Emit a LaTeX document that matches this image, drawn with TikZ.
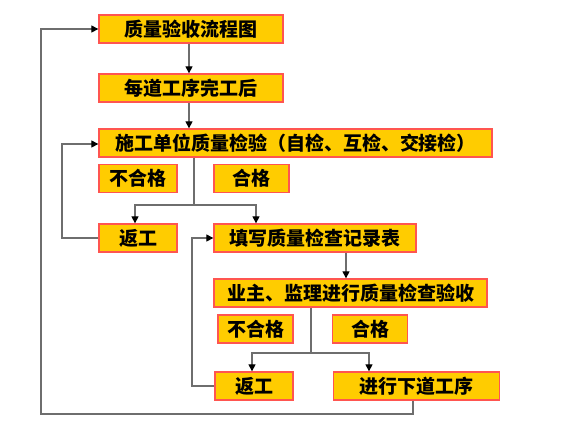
\documentclass[tikz,border=0pt]{standalone}
\usepackage{fontspec}
\usepackage{tikz}
\usetikzlibrary{arrows.meta}
\newfontfamily\cjk{Noto Sans CJK SC}
\definecolor{boxfill}{RGB}{255,204,0}
\definecolor{boxline}{RGB}{255,85,80}
\definecolor{linkgray}{RGB}{110,110,110}

\begin{document}
\begin{tikzpicture}[x=1pt,y=-1pt,
    stepbox/.style={draw=boxline,fill=boxfill,line width=1.3pt,inner sep=0pt,
        minimum height=28pt,font=\cjk\bfseries\fontsize{19}{21}\selectfont},
    link/.style={draw=linkgray,line width=1.1pt},
    arr/.style={link,-{Triangle[length=7pt,width=7pt,color=black]}}]
            \useasboundingbox (0,0) rectangle (576,432);

            % boxes
            \node[stepbox,minimum width=184pt] at (191,29) (t1) {质量验收流程图};
            \node[stepbox,minimum width=184pt] at (191,88) (t2) {每道工序完工后};
            \node[stepbox,minimum width=393pt] at (295.5,143) (t3) {施工单位质量检验（自检、互检、交接检）};
            \node[stepbox,minimum width=78pt] at (138,178.5) (bad1) {不合格};
            \node[stepbox,minimum width=75pt] at (251.5,178.5) (ok1) {合格};
            \node[stepbox,minimum width=78pt] at (138,238) (rw1) {返工};
            \node[stepbox,minimum width=202pt] at (315,238) (rec) {填写质量检查记录表};
            \node[stepbox,minimum width=273pt] at (350.5,293) (own) {业主、监理进行质量检查验收};
            \node[stepbox,minimum width=75pt] at (255.5,329) (bad2) {不合格};
            \node[stepbox,minimum width=75pt] at (370,329) (ok2) {合格};
            \node[stepbox,minimum width=78pt] at (254,386) (rw2) {返工};
            \node[stepbox,minimum width=166pt] at (416.5,386) (next) {进行下道工序};

            % branch points
            \coordinate (s1) at (194,205);
            \coordinate (s2) at (311,353);

            \draw[arr] (t1.south -| 189,0) -- (t2.north -| 189,0);
            \draw[arr] (t2.south -| 189,0) -- (t3.north -| 189,0);
            \draw[link] (t3.south -| s1) -- (s1);
            \draw[arr] (s1) -| (rw1.north -| 135,0);
            \draw[arr] (s1) -| (rec.north -| 256,0);
            \draw[arr] (rw1.west) -| (62,144) -- (t3.west |- 0,144);
            \draw[arr] (rec.south -| 346,0) -- (own.north -| 346,0);
            \draw[link] (own.south -| s2) -- (s2);
            \draw[arr] (s2) -| (rw2.north -| 252,0);
            \draw[arr] (s2) -| (next.north -| 369,0);
            \draw[arr] (rw2.west) -| (192,238) -- (rec.west);
            \draw[arr] (next.south -| 413,0) |- (41,414) |- (t1.west);
        \end{tikzpicture}
\end{document}
